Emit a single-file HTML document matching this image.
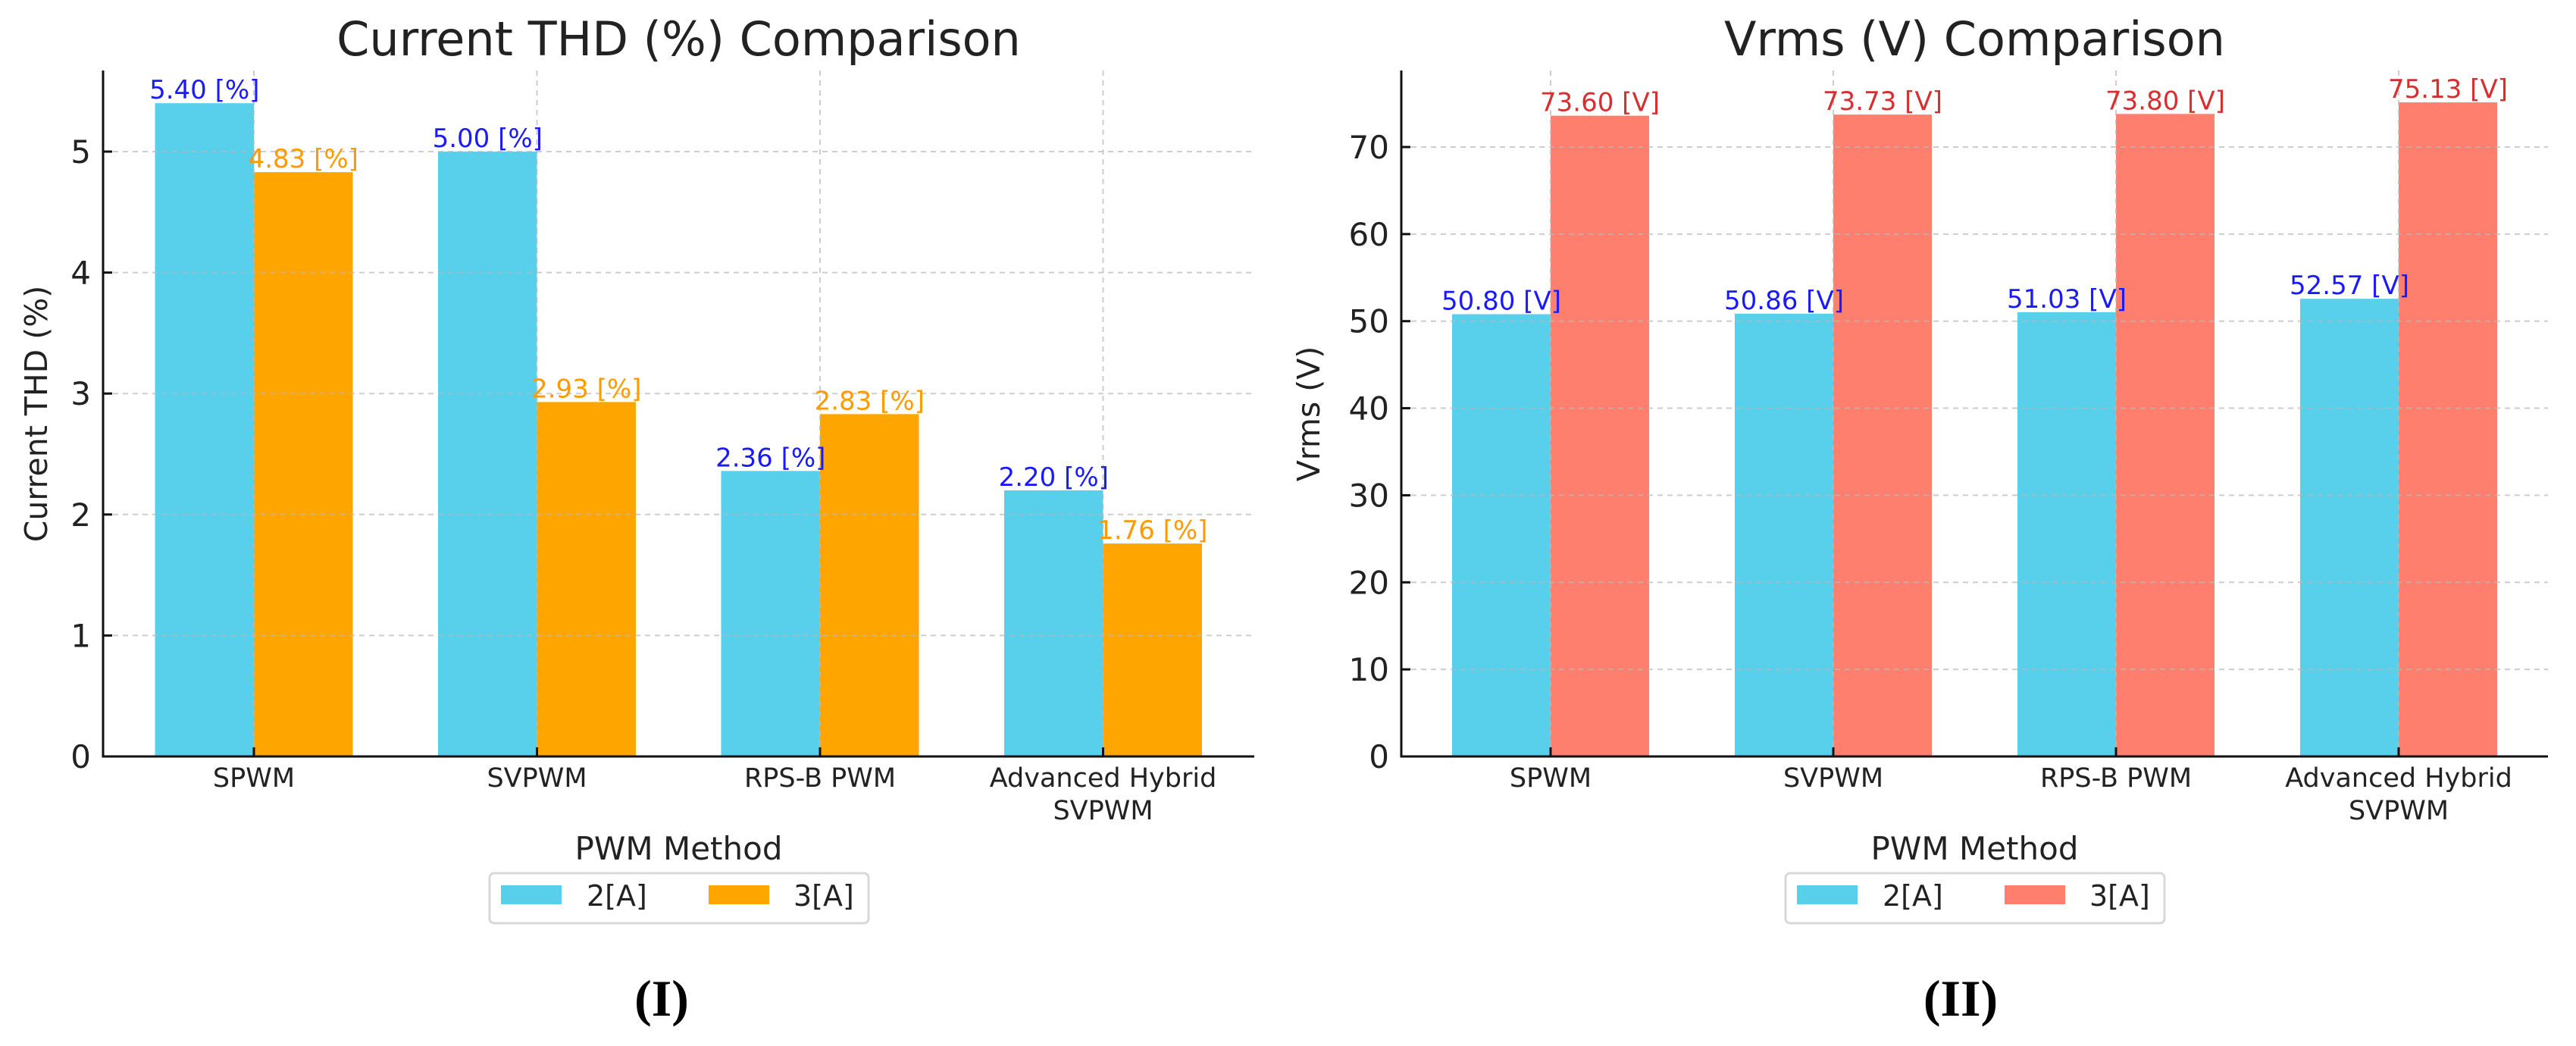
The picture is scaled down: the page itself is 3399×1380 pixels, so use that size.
<!DOCTYPE html>
<html><head><meta charset="utf-8"><style>
html,body{margin:0;padding:0;background:#fff;}
svg{display:block;font-family:"DejaVu Sans","Liberation Sans",sans-serif;}
</style></head><body>
<svg id="fig" width="3399" height="1380" viewBox="0 0 3399 1380" xmlns="http://www.w3.org/2000/svg">
<rect width="3399" height="1380" fill="#fff"/>
</svg>
<script>
const categories = ["SPWM", "SVPWM", "RPS-B PWM", "Advanced Hybrid|SVPWM"];
const thd2A = [5.40, 5.00, 2.36, 2.20];
const thd3A = [4.83, 2.93, 2.83, 1.76];
const thdTicks = [0, 1, 2, 3, 4, 5];
const vrms2A = [50.80, 50.86, 51.03, 52.57];
const vrms3A = [73.60, 73.73, 73.80, 75.13];
const vrmsTicks = [0, 10, 20, 30, 40, 50, 60, 70];
const seriesNames = ["2[A]", "3[A]"];

const NS = "http://www.w3.org/2000/svg";
const svg = document.getElementById("fig");
function el(tag, attrs, parent, text) {
  const e = document.createElementNS(NS, tag);
  for (const k in attrs) e.setAttribute(k, attrs[k]);
  if (text !== undefined) e.textContent = text;
  (parent || svg).appendChild(e);
  return e;
}

function drawChart(cfg) {
  const g = el("g", {});
  
  
  const y0 = 998, yTop = 93;
  const ys = v => y0 - v * cfg.perUnit;
  const xc = i => cfg.c0 + i * cfg.step;
  const bw = cfg.bw;
  // bars
  cfg.s1.forEach((v, i) => {
    const r = el("rect", {x: xc(i) - bw, y: ys(v), width: bw, height: y0 - ys(v), fill: "#58CFEB"}, g);
    
    
  });
  cfg.s2.forEach((v, i) => {
    const r = el("rect", {x: xc(i), y: ys(v), width: bw, height: y0 - ys(v), fill: cfg.c2}, g);
    
    
  });
  // grid
  cfg.ticks.forEach(t => {
    const l = el("line", {x1: cfg.x0, x2: cfg.x1, y1: ys(t), y2: ys(t), stroke: "#b8b8b8", "stroke-width": 2, "stroke-dasharray": "7 6", opacity: 0.7}, g);
    
    
  });
  categories.forEach((c, i) => {
    const l = el("line", {x1: xc(i), x2: xc(i), y1: yTop, y2: y0, stroke: "#b8b8b8", "stroke-width": 2, "stroke-dasharray": "7 6", opacity: 0.7}, g);
    
    
  });
  // value labels
  cfg.s1.forEach((v, i) => {
    const t = el("text", {x: xc(i) - bw / 2, y: ys(v) - 6, "font-size": 34, fill: "#1a1aff", "text-anchor": "middle"}, g, v.toFixed(2) + " [" + cfg.unit + "]");
    
    
  });
  cfg.s2.forEach((v, i) => {
    const t = el("text", {x: xc(i) + bw / 2, y: ys(v) - 6, "font-size": 34, fill: cfg.lc2, "text-anchor": "middle"}, g, v.toFixed(2) + " [" + cfg.unit + "]");
    
    
  });
  // spines
  const sp = el("path", {d: `M${cfg.x0},${yTop} V${y0} H${cfg.x1}`, fill: "none", stroke: "#111", "stroke-width": 3}, g);
  
  
  // y ticks
  cfg.ticks.forEach(t => {
    el("line", {x1: cfg.x0, x2: cfg.x0 + 12, y1: ys(t), y2: ys(t), stroke: "#111", "stroke-width": 3}, g);
    const tx = el("text", {x: cfg.x0 - 16, y: ys(t) + 15, "font-size": 42, fill: "#222", "text-anchor": "end"}, g, String(t));
    
    
  });
  // x ticks
  categories.forEach((c, i) => {
    el("line", {x1: xc(i), x2: xc(i), y1: y0, y2: y0 - 12, stroke: "#111", "stroke-width": 3}, g);
    c.split("|").forEach((line, k) => {
      const tx = el("text", {x: xc(i), y: 1038 + k * 43, "font-size": 35, fill: "#222", "text-anchor": "middle"}, g, line);
      
      
    });
  });
  const mid = (cfg.x0 + cfg.x1) / 2;
  const ti = el("text", {x: mid, y: 73, "font-size": 62, fill: "#222", "text-anchor": "middle"}, g, cfg.title);
  
  
  const xl = el("text", {x: mid, y: 1134, "font-size": 42, fill: "#222", "text-anchor": "middle"}, g, "PWM Method");
  
  
  const yl = el("text", {x: 0, y: 0, "font-size": 41, fill: "#222", "text-anchor": "middle", transform: `translate(${cfg.ylx},546) rotate(-90)`}, g, cfg.ylabel);
  
  
  // legend
  const lg = el("g", {}, g);
  
  
  const L = cfg.legX;
  el("rect", {x: L, y: 1152, width: 500, height: 66, rx: 6, fill: "#fff", stroke: "#d8d8d8", "stroke-width": 3}, lg);
  const p1 = el("rect", {x: L + 15, y: 1168, width: 80, height: 25, fill: "#58CFEB"}, lg);
  
  
  const t1 = el("text", {x: L + 128, y: 1195, "font-size": 38, fill: "#222"}, lg, seriesNames[0]);
  
  
  const p2 = el("rect", {x: L + 289, y: 1168, width: 80, height: 25, fill: cfg.c2}, lg);
  
  
  const t2 = el("text", {x: L + 401, y: 1195, "font-size": 38, fill: "#222"}, lg, seriesNames[1]);
  
  
  const pl = el("text", {x: cfg.panelX, y: 1340, "font-size": 68, "font-weight": "bold", fill: "#000", "text-anchor": "middle", "font-family": "Liberation Serif, serif"}, g, cfg.panel);
  
  
}

drawChart({name: "thd-chart", s1: thd2A, s2: thd3A, ticks: thdTicks, perUnit: 159.6, x0: 136, x1: 1655, c0: 335, step: 373.5, bw: 130.5,
  c2: "#FFA500", lc2: "#FF9A00", unit: "%", title: "Current THD (%) Comparison", ylabel: "Current THD (%)", ylx: 62, legX: 646, panelX: 873, panel: "(I)"});
drawChart({name: "vrms-chart", s1: vrms2A, s2: vrms3A, ticks: vrmsTicks, perUnit: 11.486, x0: 1849, x1: 3362, c0: 2046, step: 373, bw: 130,
  c2: "#FF7F6E", lc2: "#D62F2F", unit: "V", title: "Vrms (V) Comparison", ylabel: "Vrms (V)", ylx: 1741, legX: 2356, panelX: 2587, panel: "(II)"});
</script>
</body></html>
